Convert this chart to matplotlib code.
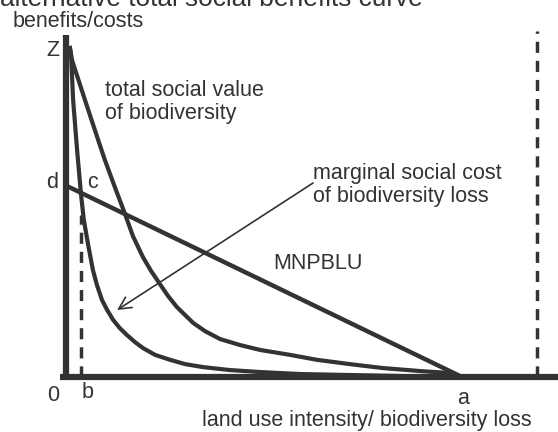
import matplotlib
matplotlib.use("Agg")
import matplotlib.pyplot as plt

# conceptual diagram, values (a = 10, Z = 10)
msc_x = [0.10, 0.13, 0.18, 0.28, 0.38, 0.45, 0.56, 0.68, 0.78, 0.91, 1.04, 1.19, 1.36,
         1.54, 1.74, 1.94, 2.25, 2.63, 3.01, 3.46, 4.14, 4.90, 5.91, 7.17, 8.43, 10.0]
msc_y = [9.97, 9.70, 8.39, 6.88, 5.52, 4.76, 4.00, 3.24, 2.79, 2.33, 2.03, 1.73, 1.48,
         1.27, 1.06, 0.88, 0.67, 0.52, 0.39, 0.30, 0.21, 0.15, 0.09, 0.06, 0.03, 0.0]

tsv_x = [0.10, 0.15, 0.48, 0.73, 0.98, 1.26, 1.49, 1.69, 1.94, 2.15, 2.37, 2.58, 2.80,
         3.21, 3.51, 3.89, 4.39, 4.90, 5.66, 6.34, 7.17, 8.01, 8.94, 9.70, 10.0]
tsv_y = [9.97, 9.61, 8.39, 7.48, 6.58, 5.67, 4.94, 4.27, 3.64, 3.21, 2.82, 2.45, 2.12,
         1.64, 1.39, 1.15, 0.97, 0.82, 0.67, 0.52, 0.39, 0.27, 0.18, 0.12, 0.0]

mnpblu_x = [0.0, 10.0]
mnpblu_y = [5.8, 0.0]

b_val = 0.39
b_top = 4.9
right_x = 11.89
right_top = 10.48

col = '#333336'
fs = 15.5
plt.rcParams['font.family'] = ['Liberation Sans', 'DejaVu Sans']

fig = plt.figure(figsize=(5.58, 4.32), dpi=100)
ax = fig.add_axes([0, 0, 1, 1])
ax.set_xlim(-66 / 39.6, (558 - 66) / 39.6)
ax.set_ylim((377 - 432) / 33, 377 / 33)
ax.axis('off')

# axes lines
ax.plot([0, 0], [-0.1, 10.36], color=col, lw=4.5, solid_capstyle='butt')
ax.plot([-0.15, 12.5], [0, 0], color=col, lw=4.5, solid_capstyle='butt')

# dashed guides
ax.plot([b_val, b_val], [0, b_top], color=col, lw=2.5, ls=(0, (3.2, 2.3)))
ax.plot([right_x, right_x], [0, right_top], color=col, lw=2.5, ls=(0, (3.2, 2.3)))

# curves
ax.plot(msc_x, msc_y, color=col, lw=3, solid_joinstyle='round')
ax.plot(tsv_x, tsv_y, color=col, lw=3, solid_joinstyle='round')
ax.plot(mnpblu_x, mnpblu_y, color=col, lw=3.2)

# arrow to marginal cost curve
ax.annotate('', xy=(1.29, 2.03), xytext=(6.24, 5.88),
            arrowprops=dict(arrowstyle='->', color=col, lw=1.2,
                            mutation_scale=22, shrinkA=0, shrinkB=0))

# labels
ax.text(9.02, 11.25, 'alternative total social benefits curve', ha='right',
        va='baseline', fontsize=18.9, color=col)
ax.text(-1.34, 10.78, 'benefits/costs', ha='left', va='center', fontsize=fs, color=col)
ax.text(-0.33, 9.88, 'Z', ha='center', va='center', fontsize=fs, color=col)
ax.text(-0.35, 5.88, 'd', ha='center', va='center', fontsize=fs, color=col)
ax.text(0.68, 5.88, 'c', ha='center', va='center', fontsize=fs, color=col)
ax.text(-0.33, -0.55, '0', ha='center', va='center', fontsize=fs, color=col)
ax.text(0.54, -0.48, 'b', ha='center', va='center', fontsize=fs, color=col)
ax.text(10.03, -0.64, 'a', ha='center', va='center', fontsize=fs, color=col)
ax.text(0.98, 8.33, 'total social value\nof biodiversity', ha='left', va='center',
        fontsize=fs, color=col, linespacing=1.1)
ax.text(6.24, 5.82, 'marginal social cost\nof biodiversity loss', ha='left', va='center',
        fontsize=fs, color=col, linespacing=1.1)
ax.text(5.23, 3.45, 'MNPBLU', ha='left', va='center', fontsize=fs, color=col)
ax.text(7.6, -1.33, 'land use intensity/ biodiversity loss', ha='center', va='center',
        fontsize=fs, color=col)

fig.savefig('out.png', dpi=100)
